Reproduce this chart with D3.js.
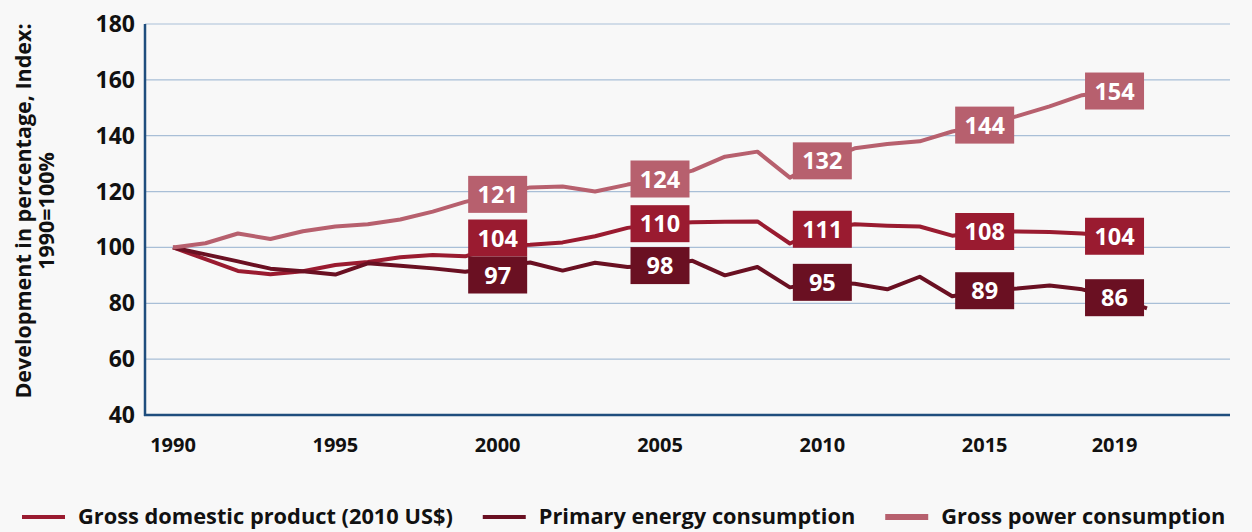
<!DOCTYPE html>
<html>
<head>
<meta charset="utf-8">
<script src="https://d3js.org/d3.v7.min.js"></script>
<style>
  body { margin: 0; background: #f8f8f8; }
  svg { font-family: "Open Sans", sans-serif; display: block; }
</style>
</head>
<body>
<script>
// data (index, 1990 = 100)
var years = [1990, 1991, 1992, 1993, 1994, 1995, 1996, 1997, 1998, 1999,
             2000, 2001, 2002, 2003, 2004, 2005, 2006, 2007, 2008, 2009,
             2010, 2011, 2012, 2013, 2014, 2015, 2016, 2017, 2018, 2019, 2020];

var gdp = [100, 95.8, 91.6, 90.4, 91.5, 93.7, 94.8, 96.5, 97.3, 96.8,
           100.5, 101, 101.8, 104, 107, 108.5, 109, 109.2, 109.3, 101.4,
           106.5, 108.3, 107.8, 107.5, 104.2, 105.7, 105.7, 105.5, 105, 104];

var primary = [100, 97.5, 95, 92.4, 91.5, 90.3, 94.3, 93.4, 92.5, 91.3,
               93, 94.6, 91.7, 94.5, 93, 93.5, 95.2, 90, 93, 85.7,
               87.5, 87, 85, 89.5, 82.5, 84.5, 85.3, 86.4, 85, 82, 78.2];

var power = [100, 101.5, 105, 103, 105.8, 107.5, 108.3, 110, 112.8, 116.3,
             119, 121.5, 121.8, 120, 122.5, 124.5, 127.5, 132.5, 134.3, 125,
             131, 135.5, 137, 138, 141.5, 143.8, 147, 150.5, 154.5, 156];

// labelled values in the boxes
var labelYears = [2000, 2005, 2010, 2015, 2019];
var gdpLabels = [104, 110, 111, 108, 104];
var primaryLabels = [97, 98, 95, 89, 86];
var powerLabels = [121, 124, 132, 144, 154];

var xTicks = [1990, 1995, 2000, 2005, 2010, 2015, 2019];
var yTicks = [40, 60, 80, 100, 120, 140, 160, 180];

var series = [
  {name: "Gross domestic product (2010 US$)", values: gdp, labels: gdpLabels, color: "#9a1b30", swatch: 4},
  {name: "Primary energy consumption", values: primary, labels: primaryLabels, color: "#6a1022", swatch: 4},
  {name: "Gross power consumption", values: power, labels: powerLabels, color: "#b7606e", swatch: 6}
];

(function() {
  var W = 1252, H = 532;
  var pLeft = 145, pRight = 1230, pTop = 24, pBottom = 415;

  var svg = d3.select("body").append("svg")
    .attr("width", W)
    .attr("height", H);

  var x = d3.scaleLinear().domain([1990, 2020]).range([173, 1147]);
  var y = d3.scaleLinear().domain([40, 180]).range([pBottom, pTop]);

  // gridlines
  svg.append("g")
    .selectAll("line")
    .data(yTicks.filter(function(d) { return d > 40; }))
    .join("line")
    .attr("x1", pLeft).attr("x2", pRight)
    .attr("y1", function(d) { return y(d); })
    .attr("y2", function(d) { return y(d); })
    .attr("stroke", "#a9bfd7")
    .attr("stroke-width", 1.2);

  // axis lines
  svg.append("line")
    .attr("x1", pLeft).attr("x2", pLeft)
    .attr("y1", pTop).attr("y2", pBottom + 1)
    .attr("stroke", "#1f4e7e").attr("stroke-width", 2.5);
  svg.append("line")
    .attr("x1", pLeft - 1).attr("x2", pRight)
    .attr("y1", pBottom).attr("y2", pBottom)
    .attr("stroke", "#1f4e7e").attr("stroke-width", 2.5);

  // y tick labels
  svg.append("g")
    .selectAll("text")
    .data(yTicks)
    .join("text")
    .attr("x", 135)
    .attr("y", function(d) { return y(d) + 8; })
    .attr("text-anchor", "end")
    .attr("font-size", 23)
    .attr("font-weight", 700)
    .attr("fill", "#111")
    .text(function(d) { return d; });

  // x tick labels
  svg.append("g")
    .selectAll("text")
    .data(xTicks)
    .join("text")
    .attr("x", function(d) { return x(d); })
    .attr("y", 452)
    .attr("text-anchor", "middle")
    .attr("font-size", 20)
    .attr("font-weight", 700)
    .attr("fill", "#111")
    .text(function(d) { return d; });

  // y axis title
  var yt = svg.append("text")
    .attr("transform", "translate(31,211) rotate(-90)")
    .attr("text-anchor", "middle")
    .attr("font-size", 21.5)
    .attr("font-weight", 700)
    .attr("fill", "#111");
  yt.append("tspan").attr("x", 0).attr("dy", 0).text("Development in percentage, Index:");
  yt.append("tspan").attr("x", 0).attr("dy", 23).text("1990=100%");

  // lines
  var line = d3.line()
    .x(function(d) { return x(d[0]); })
    .y(function(d) { return y(d[1]); });

  series.forEach(function(s) {
    var pts = s.values.map(function(v, i) { return [years[i], v]; });
    svg.append("path")
      .datum(pts)
      .attr("d", line)
      .attr("fill", "none")
      .attr("stroke", s.color)
      .attr("stroke-width", 4)
      .attr("stroke-linejoin", "round");
  });

  // value boxes, centred on the line and pushed apart when they collide
  var boxW = 59, boxH = 37;
  labelYears.forEach(function(yr, i) {
    var idx = years.indexOf(yr);
    var items = series.map(function(s) {
      return {s: s, v: s.labels[i], cy: y(s.values[idx])};
    });
    items.sort(function(a, b) { return a.cy - b.cy; });
    for (var k = 1; k < items.length; k++) {
      var a = items[k - 1], b = items[k];
      if (b.cy - a.cy < boxH) {
        var mid = (a.cy + b.cy) / 2;
        a.cy = mid - boxH / 2;
        b.cy = mid + boxH / 2;
      }
    }
    items.forEach(function(it) {
      var g = svg.append("g").attr("transform", "translate(" + x(yr) + "," + it.cy + ")");
      g.append("rect")
        .attr("x", -boxW / 2).attr("y", -boxH / 2)
        .attr("width", boxW).attr("height", boxH)
        .attr("fill", it.s.color);
      g.append("text")
        .attr("text-anchor", "middle")
        .attr("y", 8.5)
        .attr("font-size", 23.5)
        .attr("font-weight", 700)
        .attr("fill", "#fff")
        .text(it.v);
    });
  });

  // legend
  var lx = 22, ly = 524;
  series.forEach(function(s) {
    svg.append("line")
      .attr("x1", lx).attr("x2", lx + 43)
      .attr("y1", ly - 7).attr("y2", ly - 7)
      .attr("stroke", s.color)
      .attr("stroke-width", s.swatch);
    var t = svg.append("text")
      .attr("x", lx + 56)
      .attr("y", ly)
      .attr("font-size", 21.8)
      .attr("font-weight", 700)
      .attr("fill", "#111")
      .text(s.name);
    lx = lx + 56 + t.node().getComputedTextLength() + 30;
  });
})();
</script>
</body>
</html>
